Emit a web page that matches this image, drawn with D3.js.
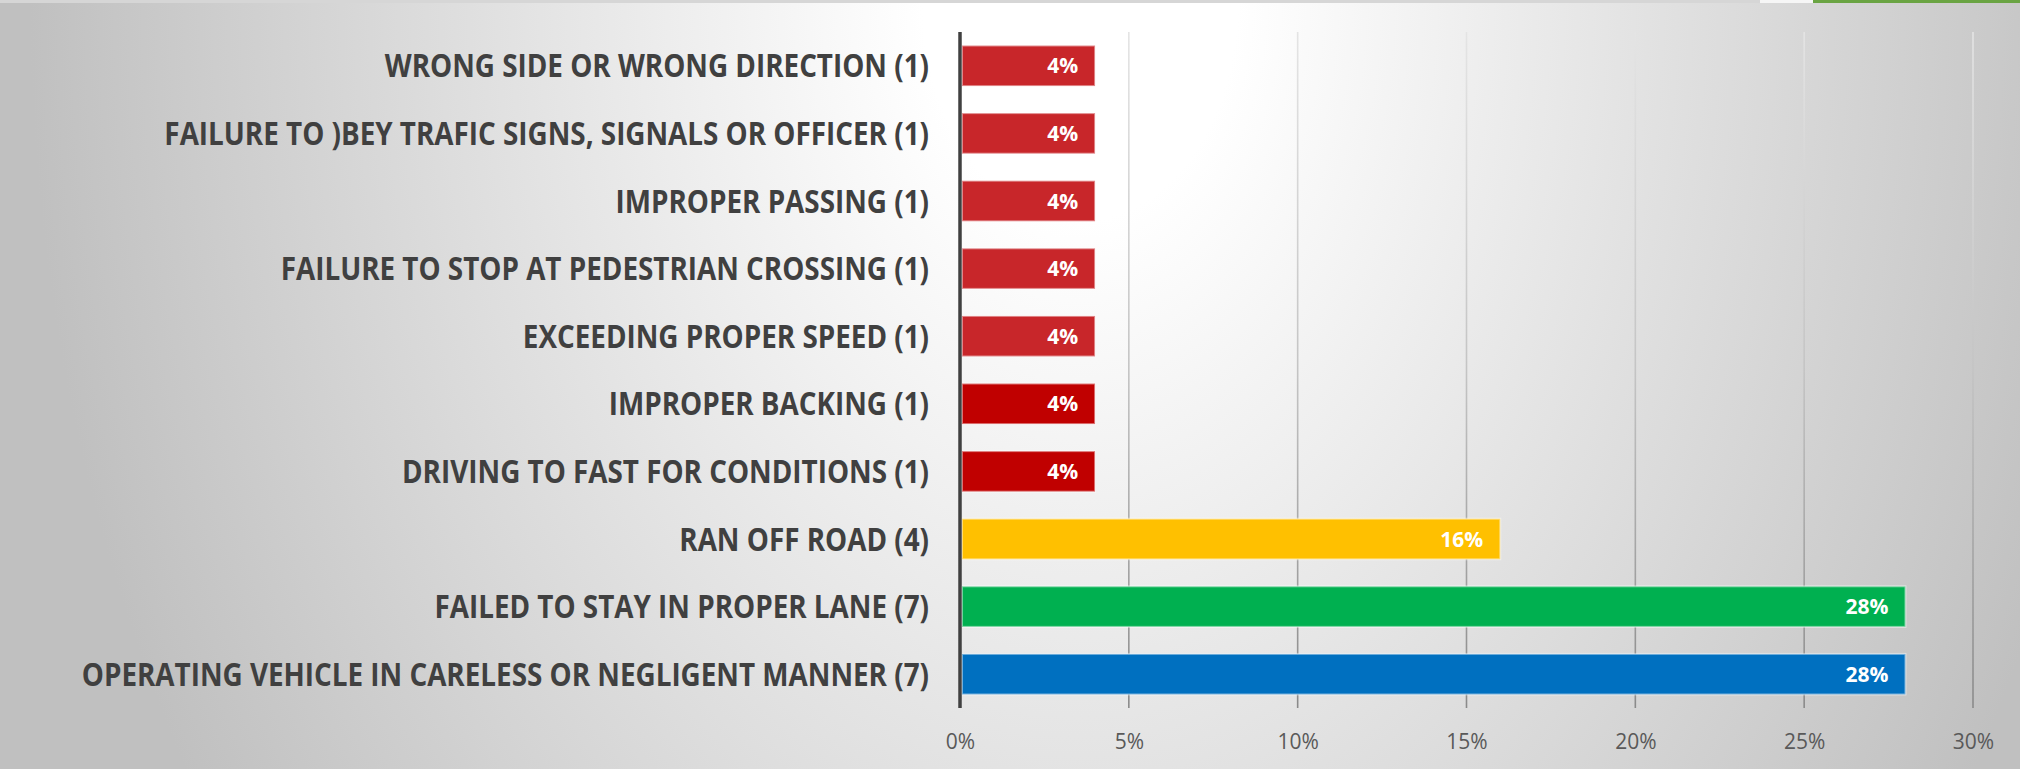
<!DOCTYPE html>
<html>
<head>
<meta charset="utf-8">
<title>Crash causes</title>
<script src="https://d3js.org/d3.v7.min.js"></script>
<style>
body {
  margin: 0;
  padding: 0;
  overflow: hidden;
}
svg { display: block; }
.cat-label {
  font-family: "Open Sans", "DejaVu Sans", sans-serif;
  font-weight: bold;
  fill: #404040;
}
.tick text {
  font-family: "Open Sans", sans-serif;
  fill: #595959;
}
.val-label {
  font-family: "Open Sans", sans-serif;
  font-weight: bold;
  fill: #ffffff;
}
</style>
</head>
<body>
<svg id="chart" width="2020" height="769"></svg>
<script>

// data, top row first
var categories = [
  "WRONG SIDE OR WRONG DIRECTION (1)",
  "FAILURE TO )BEY TRAFIC SIGNS, SIGNALS OR OFFICER (1)",
  "IMPROPER PASSING (1)",
  "FAILURE TO STOP AT PEDESTRIAN CROSSING (1)",
  "EXCEEDING PROPER SPEED (1)",
  "IMPROPER BACKING (1)",
  "DRIVING TO FAST FOR CONDITIONS (1)",
  "RAN OFF ROAD (4)",
  "FAILED TO STAY IN PROPER LANE (7)",
  "OPERATING VEHICLE IN CARELESS OR NEGLIGENT MANNER (7)"
];
var values = [4, 4, 4, 4, 4, 4, 4, 16, 28, 28];
var tickValues = [0, 5, 10, 15, 20, 25, 30];

// one colour per bar
var barColors = ["#c8262a", "#c8262a", "#c8262a", "#c8262a", "#c8262a",
                 "#c00000", "#c00000", "#ffc000", "#00b050", "#0070c0"];

var W = 2020, H = 769;
var margin = {top: 32, right: 47, bottom: 61, left: 960};

var svg = d3.select("#chart");
var defs = svg.append("defs");

// background: soft radial light from the top middle
var bg = defs.append("radialGradient")
  .attr("id", "bg")
  .attr("gradientUnits", "userSpaceOnUse")
  .attr("cx", 1080).attr("cy", 0).attr("r", 1050)
  .attr("gradientTransform", "translate(1080,0) scale(1,1.4) translate(-1080,0)");
bg.append("stop").attr("offset", "0").attr("stop-color", "#ffffff");
bg.append("stop").attr("offset", "0.15").attr("stop-color", "#ffffff");
bg.append("stop").attr("offset", "1").attr("stop-color", "#c0c0c0");

// grid lines get darker toward the bottom
var gg = defs.append("linearGradient")
  .attr("id", "gridgrad")
  .attr("gradientUnits", "userSpaceOnUse")
  .attr("x1", 0).attr("y1", margin.top).attr("x2", 0).attr("y2", H - margin.bottom);
gg.append("stop").attr("offset", "0").attr("stop-color", "#e4e4e4");
gg.append("stop").attr("offset", "0.5").attr("stop-color", "#c4c4c4");
gg.append("stop").attr("offset", "1").attr("stop-color", "#8a8a8a");

svg.append("rect").attr("width", W).attr("height", H).attr("fill", "url(#bg)");

// thin frame bits along the top edge
svg.append("rect").attr("x", 0).attr("y", 0).attr("width", 1760).attr("height", 3).attr("fill", "#d6d6d6");
svg.append("rect").attr("x", 1760).attr("y", 0).attr("width", 53).attr("height", 3).attr("fill", "#f6f6f6");
svg.append("rect").attr("x", 1813).attr("y", 0).attr("width", W - 1813).attr("height", 3).attr("fill", "#6aa443");

var x = d3.scaleLinear().domain([0, 30]).range([margin.left, W - margin.right]);
var y = d3.scaleBand()
  .domain(categories)
  .range([margin.top, H - margin.bottom])
  .paddingInner(0.4)
  .paddingOuter(0.2);

// vertical grid
svg.append("g")
  .selectAll("line")
  .data(tickValues.slice(1))
  .join("line")
  .attr("x1", function(d) { return x(d); })
  .attr("x2", function(d) { return x(d); })
  .attr("y1", margin.top)
  .attr("y2", H - margin.bottom)
  .attr("stroke", "url(#gridgrad)")
  .attr("stroke-width", 1.6);

// x axis labels, no line
var xAxis = d3.axisBottom(x)
  .tickValues(tickValues)
  .tickFormat(function(d) { return d + "%"; })
  .tickSize(0)
  .tickPadding(0);

var gx = svg.append("g")
  .attr("transform", "translate(0," + (H - margin.bottom + 26) + ")")
  .call(xAxis);
gx.select(".domain").remove();
gx.selectAll("text").attr("font-size", "21px").attr("dy", "0.71em");

// bars
svg.append("g")
  .selectAll("rect")
  .data(values)
  .join("rect")
  .attr("x", x(0) + 2)
  .attr("y", function(d, i) { return y(categories[i]); })
  .attr("width", function(d) { return x(d) - x(0) - 2; })
  .attr("height", y.bandwidth())
  .attr("fill", function(d, i) { return barColors[i]; })
  .attr("stroke", "rgba(255,255,255,0.45)")
  .attr("stroke-width", 2);

// value labels inside bar ends
svg.append("g")
  .selectAll("text")
  .data(values)
  .join("text")
  .attr("class", "val-label")
  .attr("x", function(d) { return x(d) - 17; })
  .attr("y", function(d, i) { return y(categories[i]) + y.bandwidth() / 2; })
  .attr("dy", "0.36em")
  .attr("text-anchor", "end")
  .attr("font-size", "21px")
  .text(function(d) { return d + "%"; });

// category labels, a bit narrowed like the original font
svg.append("g")
  .selectAll("text")
  .data(categories)
  .join("text")
  .attr("class", "cat-label")
  .attr("transform", function(d) {
    return "translate(" + (x(0) - 31) + "," + (y(d) + y.bandwidth() / 2) + ") scale(0.87,1)";
  })
  .attr("dy", "0.36em")
  .attr("text-anchor", "end")
  .attr("font-size", "32px")
  .text(function(d) { return d; });

// y axis line
svg.append("line")
  .attr("x1", x(0)).attr("x2", x(0))
  .attr("y1", margin.top).attr("y2", H - margin.bottom)
  .attr("stroke", "#404040")
  .attr("stroke-width", 3.5);

</script>
</body>
</html>
